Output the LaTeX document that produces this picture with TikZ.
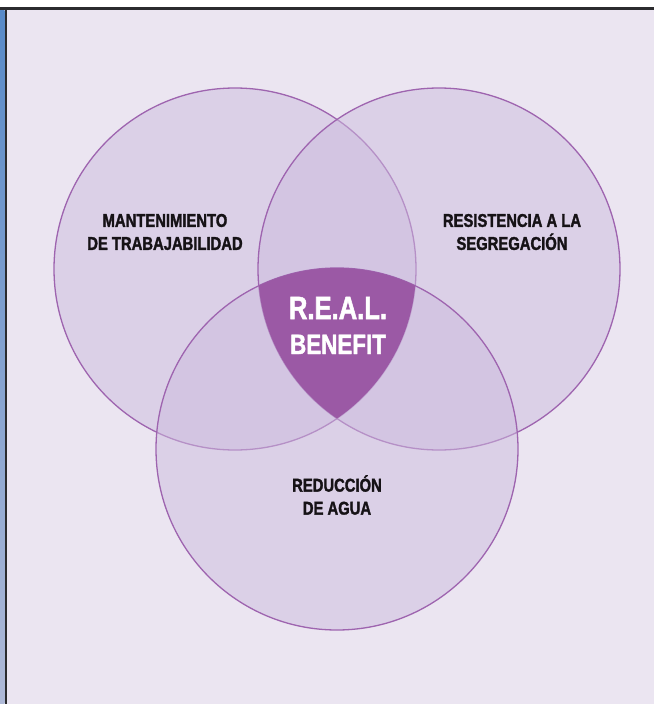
\documentclass[tikz,border=0pt]{standalone}
\usepackage{fontspec}
\usepackage{xcolor}
\newfontfamily\labelfont[FakeStretch=0.8,BoldFeatures={FakeBold=1.6}]{Liberation Sans}
\usetikzlibrary{positioning,calc}

\definecolor{pagebg}{RGB}{235,229,241}
\definecolor{ringfill}{RGB}{205,188,222}
\definecolor{ringline}{RGB}{158,100,175}
\definecolor{corefill}{RGB}{155,89,165}
\definecolor{labeltext}{RGB}{22,18,22}
\definecolor{framedark}{RGB}{43,43,46}
\definecolor{stripblue}{RGB}{88,138,200}
\definecolor{stripbluelight}{RGB}{175,185,215}

\begin{document}
\begin{tikzpicture}[
    x=1pt,y=-1pt,
    ring/.style={fill=ringfill,fill opacity=0.5,draw=ringline,draw opacity=1,line width=1.3pt},
    tag/.style={font=\labelfont\bfseries\fontsize{18.5}{23}\selectfont,text=labeltext,align=center,inner sep=0pt},
    core/.style={font=\labelfont\bfseries\fontsize{32}{36}\selectfont,text=white,inner sep=0pt,anchor=base}
]
\useasboundingbox (0,0) rectangle (654,704);

% frame
\fill[white] (0,0) rectangle (654,704);
\fill[pagebg] (7,10) rectangle (654,704);
\shade[top color=stripblue,bottom color=stripbluelight] (0,10) rectangle (4.5,704);
\fill[framedark] (4.5,10) rectangle (7,704);
\fill[framedark] (0,7) rectangle (654,10);

% circle centres
\coordinate (mant) at (235,269);
\coordinate (segr) at (439,269);
\coordinate (agua) at (337,449);
\def\rr{181}

\foreach \c in {mant,segr,agua}
  \path[ring] (\c) circle (\rr);

% common part
\begin{scope}
  \clip (mant) circle (\rr);
  \clip (segr) circle (\rr);
  \fill[corefill] (agua) circle (\rr);
\end{scope}

\node[tag] (mantlabel) at (165,232) {MANTENIMIENTO\\DE TRABAJABILIDAD};
\node[tag] (segrlabel) at (512,232) {RESISTENCIA A LA\\SEGREGACIÓN};
\node[tag] (agualabel) at (337,495) {REDUCCIÓN\\DE AGUA};

\node[core] (real) at (338,319) {R.E.A.L.};
\node[core,font=\labelfont\bfseries\fontsize{28}{32}\selectfont] (benefit) at (338,354) {BENEFIT};

\end{tikzpicture}
\end{document}
